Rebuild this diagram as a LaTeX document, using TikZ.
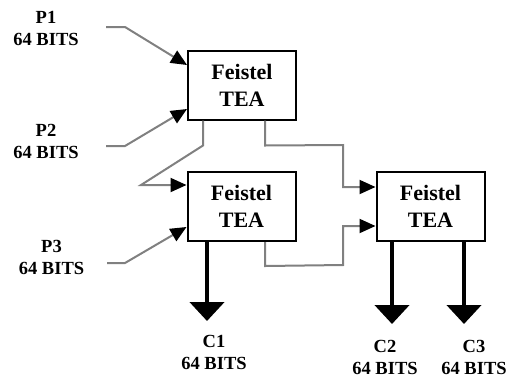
\documentclass[tikz,border=0pt]{standalone}
\usepackage{fontspec}
\setmainfont{Liberation Serif}
\usetikzlibrary{arrows.meta,calc}
\begin{document}
\begin{tikzpicture}[x=1pt,y=-1pt,
  feistel/.style={draw=black,line width=2pt,minimum width=108pt,minimum height=69pt,
    inner sep=0pt,align=center,font=\fontsize{22}{27}\selectfont\bfseries},
  lbl/.style={align=center,inner sep=0pt,font=\fontsize{18.5}{22}\selectfont\bfseries},
  thin/.style={draw=black!50,line width=2pt,line join=miter,
    -{Triangle[length=16pt,width=14pt,color=black]}},
  thick/.style={draw=black,line width=4.5pt,-{Triangle[length=19pt,width=34pt]}}]
  \useasboundingbox (0,0) rectangle (510,378);

  % Feistel blocks
  \node[feistel] (f1) at (242,85) {Feistel\\TEA};
  \node[feistel] (f2) at (241.5,206.5) {Feistel\\TEA};
  \node[feistel] (f3) at (430.5,206.5) {Feistel\\TEA};

  % plaintext inputs
  \node[lbl] (p1) at (46,28.5) {P1\\64 BITS};
  \node[lbl] (p2) at (46,141) {P2\\64 BITS};
  \node[lbl] (p3) at (51.5,257.5) {P3\\64 BITS};
  \coordinate (p1s) at (106,27);
  \coordinate (p2s) at (106,146);
  \coordinate (p3s) at (107,263);

  % ciphertext outputs
  \node[lbl] (c1) at (214,352) {C1\\64 BITS};
  \node[lbl] (c2) at (385,357) {C2\\64 BITS};
  \node[lbl] (c3) at (474,357) {C3\\64 BITS};

  % inputs to the first block
  \draw[thin] (p1s) -- ++(19,0) -- ([yshift=20pt]f1.west);
  \draw[thin] (p2s) -- ++(19,0) -- ([yshift=-24pt]f1.west);

  % inputs to the second block
  \draw[thin] ([xshift=-39pt]f1.south) -- ++(0,25) -- (141,185) -- ([yshift=21.5pt]f2.west);
  \draw[thin] (p3s) -- ++(18,0) -- ([yshift=-20.5pt]f2.west);

  % inputs to the third block
  \draw[thin] ([xshift=23pt]f1.south) -- ++(0,25) -- (343,145) -- (343,187) -- ([yshift=19.5pt]f3.west);
  \draw[thin] ([xshift=23.5pt]f2.south) -- ++(0,24) -- (343,265) -- (343,226) -- ([yshift=-19.5pt]f3.west);

  % ciphertext outputs
  \draw[thick] ([xshift=-34.5pt]f2.south) -- ++(0,79);
  \draw[thick] ([xshift=-38.5pt]f3.south) -- ++(0,82);
  \draw[thick] ([xshift=33.5pt]f3.south) -- ++(0,82);
\end{tikzpicture}
\end{document}
